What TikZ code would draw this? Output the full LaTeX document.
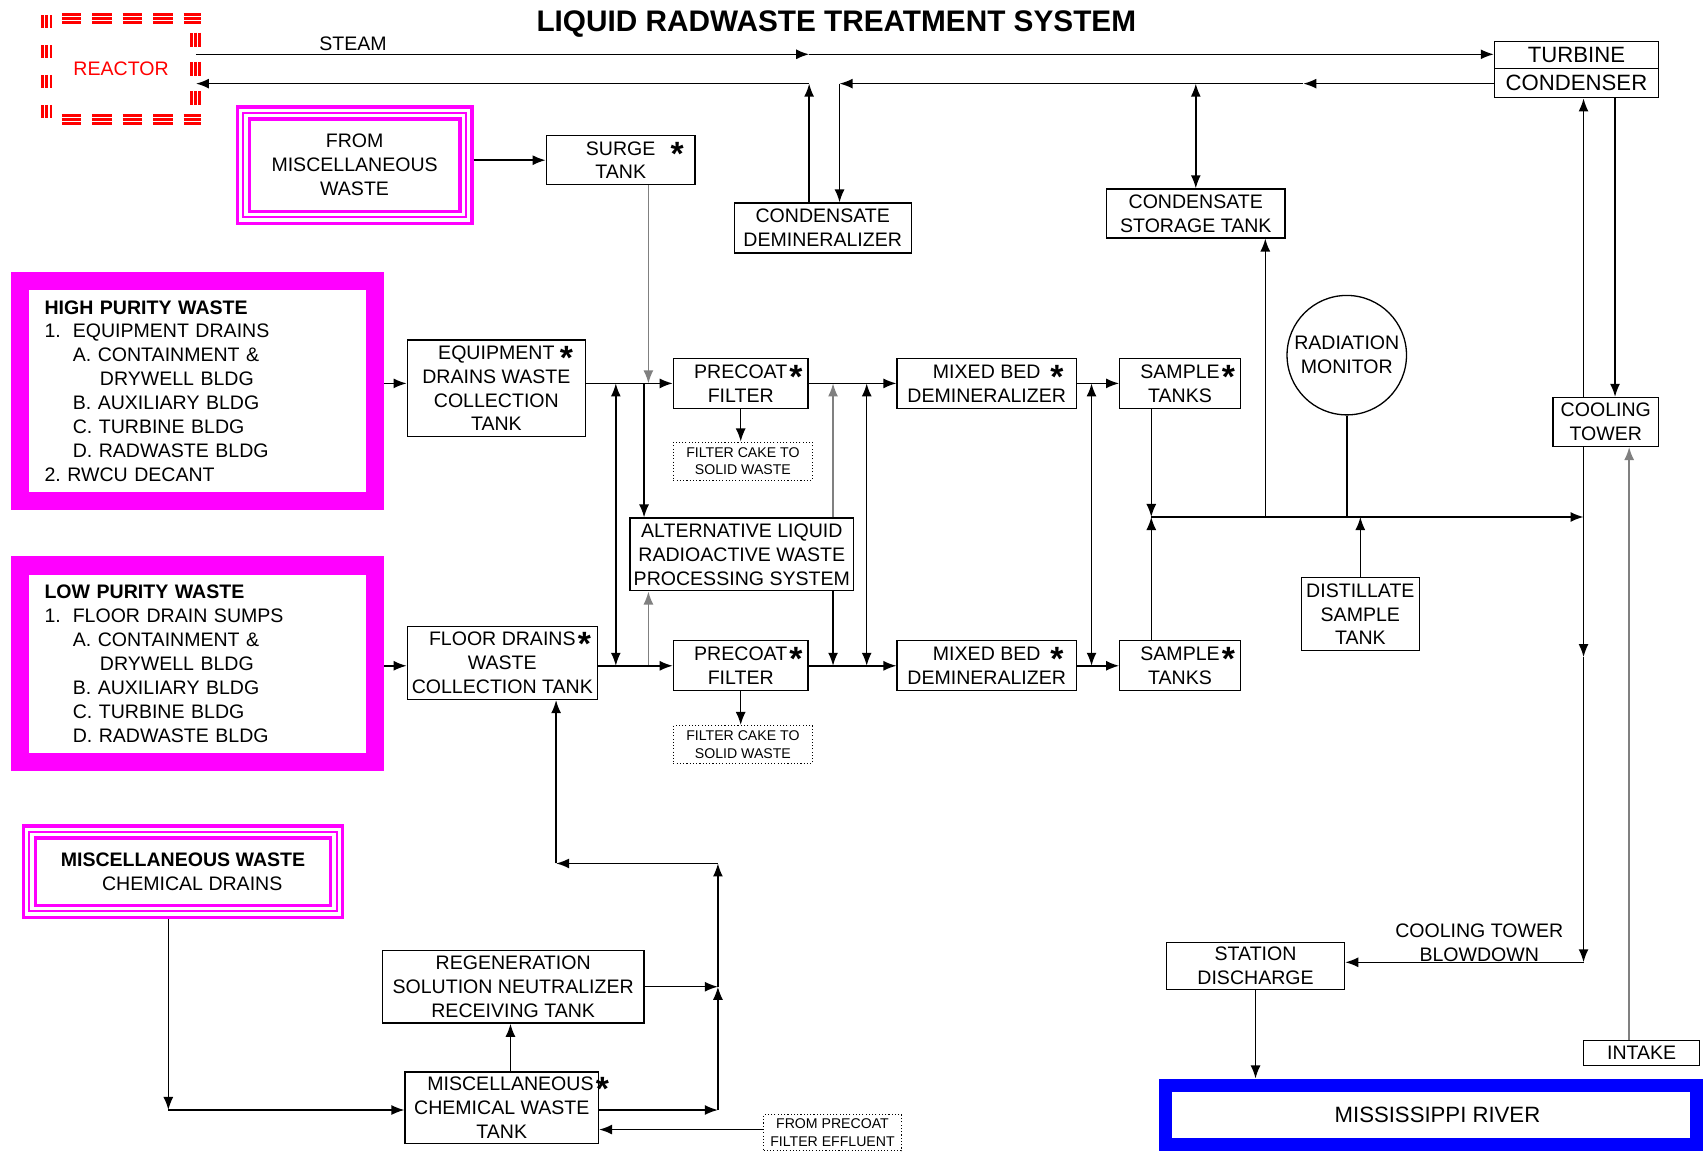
\documentclass[tikz,border=0pt]{standalone}
\usepackage{fontspec}
\setmainfont{Liberation Sans}
\usetikzlibrary{arrows.meta}
\frenchspacing

\definecolor{wastepink}{RGB}{255,0,255}
\definecolor{riverblue}{RGB}{0,0,255}
\newcommand{\boxfont}{\fontsize{9}{11}\selectfont}
\newcommand{\bigboxfont}{\fontsize{10.2}{12}\selectfont}
\newcommand{\notefont}{\fontsize{6.5}{8.2}\selectfont}
\newcommand{\tankstar}[1][1pt]{\rlap{\hspace{#1}\smash{\raisebox{-4.6pt}{\fontsize{15.5}{15.5}\selectfont\bfseries *}}}}

\tikzset{
  wh/.style 2 args={minimum width=#1*0.5pt, minimum height=#2*0.5pt},
  tank/.style={draw, line width=0.6pt, align=center, inner sep=0pt, font=\boxfont},
  note/.style={draw, densely dotted, line width=0.5pt, align=center, inner sep=0pt, font=\notefont},
  source/.style={draw=wastepink, line width=8.5pt, inner sep=0pt, font=\boxfont, align=left, text width=141pt},
  tripleframe/.style={draw=wastepink, line width=1.5pt, double=white, double distance=4pt, outer sep=3.5pt, inner sep=0pt, font=\boxfont},
  reactorrim/.style={red, line width=1.2pt, double=white, double distance=2.6pt},
  reactorcore/.style={red, line width=1.6pt},
  flow/.style={line width=0.7pt},
  pale/.style={line width=0.7pt, draw=black!50},
}

\begin{document}
\begin{tikzpicture}[x=0.5pt, y=-0.5pt, >={Latex[length=6pt,width=4.6pt]}]
  \useasboundingbox (0,0) rectangle (1568,1060);

  \node[font=\bfseries\fontsize{13.7}{16}\selectfont] (title) at (770,22) {LIQUID RADWASTE TREATMENT SYSTEM};

  %% reactor
  \node[wh={137}{93}, text=red, font=\boxfont] (reactor) at (111.5,63.5) {REACTOR};
  \draw[reactorrim, dash pattern=on 9pt off 5pt] (57,17) -- (185,17);
  \draw[reactorcore, dash pattern=on 9pt off 5pt] (57,17) -- (185,17);
  \draw[reactorrim, dash pattern=on 9pt off 5pt] (57,110) -- (185,110);
  \draw[reactorcore, dash pattern=on 9pt off 5pt] (57,110) -- (185,110);
  \draw[reactorrim, dash pattern=on 6pt off 7.75pt] (43,14) -- (43,112);
  \draw[reactorcore, dash pattern=on 6pt off 7.75pt] (43,14) -- (43,112);
  \draw[reactorrim, dash pattern=on 6.5pt off 7pt] (180,30) -- (180,100);
  \draw[reactorcore, dash pattern=on 6.5pt off 7pt] (180,30) -- (180,100);

  %% turbine side
  \node[tank, wh={151}{25}, font=\bigboxfont] (turbine) at (1451.5,50.5) {TURBINE};
  \node[tank, wh={151}{27}, font=\bigboxfont] (condenser) at (1451.5,76.5) {CONDENSER};
  \node[tank, wh={163}{46}] (condemin) at (757.5,210) {CONDENSATE\\DEMINERALIZER};
  \node[tank, wh={164}{45}] (condstor) at (1101,196.5) {CONDENSATE\\STORAGE TANK};
  \node[tank, wh={97}{45}] (cooling) at (1478.5,388.5) {COOLING\\TOWER};
  \node[draw, circle, line width=0.6pt, minimum size=110*0.5pt, inner sep=0pt, align=center, font=\boxfont] (radmon) at (1240,327) {RADIATION\\MONITOR};
  \node[tank, wh={109}{67}] (distill) at (1252.5,565.5) {DISTILLATE\\SAMPLE\\TANK};
  \node[tank, wh={164}{43}] (station) at (1156,889.5) {STATION\\DISCHARGE};
  \node[tank, wh={107}{23}] (intake) at (1511.5,969.5) {INTAKE};
  \node[draw=riverblue, line width=6pt, inner sep=0pt, wh={489}{55}, font=\bigboxfont] (river) at (1317.5,1026.5) {\hspace*{6pt}MISSISSIPPI RIVER};

  %% sources
  \node[tripleframe, wh={205}{96}, align=center] (frommisc) at (326.5,152) {FROM\\MISCELLANEOUS\\WASTE};
  \draw[wastepink, line width=0.8pt] ([shift={(3.5pt,-3.5pt)}]frommisc.north west) rectangle ([shift={(-3.5pt,3.5pt)}]frommisc.south east);
  \node[source, wh={327}{203}] (highpur) at (182,360) {\textbf{HIGH PURITY WASTE}\\
    \makebox[13pt][l]{1.}EQUIPMENT DRAINS\\
    \hspace*{13pt}A. CONTAINMENT \&\\
    \hspace*{25.5pt}DRYWELL BLDG\\
    \hspace*{13pt}B. AUXILIARY BLDG\\
    \hspace*{13pt}C. TURBINE BLDG\\
    \hspace*{13pt}D. RADWASTE BLDG\\
    2. RWCU DECANT};
  \node[source, wh={327}{181}] (lowpur) at (182,611) {\textbf{LOW PURITY WASTE}\\
    \makebox[13pt][l]{1.}FLOOR DRAIN SUMPS\\
    \hspace*{13pt}A. CONTAINMENT \&\\
    \hspace*{25.5pt}DRYWELL BLDG\\
    \hspace*{13pt}B. AUXILIARY BLDG\\
    \hspace*{13pt}C. TURBINE BLDG\\
    \hspace*{13pt}D. RADWASTE BLDG};
  \node[tripleframe, wh={283}{73}, align=left] (miscdrain) at (168.5,802.5) {\textbf{MISCELLANEOUS WASTE}\\ \hspace*{19pt}CHEMICAL DRAINS};
  \draw[wastepink, line width=0.8pt] ([shift={(3.5pt,-3.5pt)}]miscdrain.north west) rectangle ([shift={(-3.5pt,3.5pt)}]miscdrain.south east);

  %% processing trains
  \node[tank, wh={137}{45}] (surge) at (571.5,147.5) {SURGE\tankstar[7pt]\\TANK};
  \node[tank, wh={164}{89}] (eqdrain) at (457,357.5) {EQUIPMENT\tankstar[2.5pt]\\DRAINS WASTE\\COLLECTION\\TANK};
  \node[tank, wh={175}{67}] (flrdrain) at (462.5,610.5) {FLOOR DRAINS\tankstar\\WASTE\\COLLECTION TANK};
  \node[tank, wh={124}{46}] (precoatA) at (682,353) {PRECOAT\tankstar\\FILTER};
  \node[tank, wh={124}{46}] (precoatB) at (682,613) {PRECOAT\tankstar\\FILTER};
  \node[note, wh={128}{35}] (cakeA) at (684,424.5) {FILTER CAKE TO\\SOLID WASTE};
  \node[note, wh={128}{35}] (cakeB) at (684,685.5) {FILTER CAKE TO\\SOLID WASTE};
  \node[tank, wh={206}{67}] (altsys) at (683,510.5) {ALTERNATIVE LIQUID\\RADIOACTIVE WASTE\\PROCESSING SYSTEM};
  \node[tank, wh={165}{46}] (mixedA) at (908.5,353) {MIXED BED\tankstar[4.5pt]\\DEMINERALIZER};
  \node[tank, wh={165}{46}] (mixedB) at (908.5,613) {MIXED BED\tankstar[4.5pt]\\DEMINERALIZER};
  \node[tank, wh={111}{46}] (sampleA) at (1086.5,353) {SAMPLE\tankstar\\TANKS};
  \node[tank, wh={111}{46}] (sampleB) at (1086.5,613) {SAMPLE\tankstar\\TANKS};

  %% chemical waste
  \node[tank, wh={241}{67}] (regen) at (472.5,908.5) {REGENERATION\\SOLUTION NEUTRALIZER\\RECEIVING TANK};
  \node[tank, wh={178}{66}] (misctank) at (462,1020) {\hspace*{8pt}MISCELLANEOUS\tankstar\\CHEMICAL WASTE\\TANK};
  \node[note, wh={127}{33}] (fromeff) at (766.5,1043) {FROM PRECOAT\\FILTER EFFLUENT};

  %% labels
  \node[font=\boxfont] (steamlbl) at (325,40) {STEAM};
  \node[font=\boxfont, align=center] (blowlbl) at (1362,868) {COOLING TOWER\\BLOWDOWN};

  %% steam and condensate
  \coordinate (steammid) at (745,50);
  \draw[flow,->] (reactor.east |- steammid) -- (steammid);
  \draw[flow,->] (steammid) -- (turbine.west |- steammid);
  \coordinate (retmid) at (1200,77);
  \coordinate (retcorner) at (773,77);
  \coordinate (upcorner) at (745,77);
  \coordinate (storjoin) at (1101,77);
  \draw[flow,->] (condenser.west |- retmid) -- (retmid);
  \draw[flow,->] (retmid) -- (retcorner);
  \draw[flow,->] (retcorner) -- (retcorner |- condemin.north);
  \draw[flow,->] (upcorner |- condemin.north) -- (upcorner);
  \draw[flow,->] (upcorner) -- (reactor.east |- upcorner);
  \draw[flow,<->] (storjoin) -- (condstor.north);

  %% cooling tower
  \draw[flow,->] (1487,0 |- condenser.south) -- (1487,0 |- cooling.north);
  \draw[flow,->] (1458,0 |- cooling.north) -- (1458,0 |- condenser.south);
  \coordinate (bdmid) at (1458,605);
  \coordinate (bdcorner) at (1458,886);
  \draw[flow,->] (1458,0 |- cooling.south) -- (bdmid);
  \draw[flow,->] (bdmid) -- (bdcorner);
  \draw[flow,->] (bdcorner) -- (station.east |- bdcorner);
  \draw[pale,->] (1500,0 |- intake.north) -- (1500,0 |- cooling.south);
  \draw[flow,->] (station.south) -- (station.south |- river.north);

  %% discharge header
  \coordinate (jn) at (1060,476);
  \draw[flow,->] (sampleA.south -| jn) -- (jn);
  \draw[flow,->] (sampleB.north -| jn) -- (jn);
  \draw[flow,->] (jn) -- (bdmid |- jn);
  \draw[flow,->] (1165,0 |- jn) -- (1165,0 |- condstor.south);
  \draw[flow] (radmon.south) -- (radmon.south |- jn);
  \draw[flow,->] (distill.north) -- (distill.north |- jn);

  %% upper train
  \draw[flow,->] (highpur.east |- precoatA) -- (eqdrain.west |- precoatA);
  \draw[flow,->] (frommisc.east |- surge) -- (surge.west);
  \draw[flow,->] (eqdrain.east |- precoatA) -- (precoatA.west);
  \draw[pale,->] (597,0 |- surge.south) -- (597,0 |- precoatA);
  \draw[flow,->] (593,0 |- precoatA) -- (593,0 |- altsys.north);
  \draw[flow,<->] (567,0 |- precoatA) -- (567,0 |- precoatB);
  \draw[pale,->] (597,0 |- precoatB) -- (597,0 |- altsys.south);
  \draw[pale,->] (767,0 |- altsys.north) -- (767,0 |- precoatA);
  \draw[flow,->] (767,0 |- altsys.south) -- (767,0 |- precoatB);
  \draw[flow,<->] (798,0 |- precoatA) -- (798,0 |- precoatB);
  \draw[flow,->] (precoatA.east) -- (mixedA.west);
  \draw[flow,->] (mixedA.east) -- (sampleA.west);
  \draw[flow,<->] (1005,0 |- precoatA) -- (1005,0 |- precoatB);
  \draw[flow,->] (precoatA.south) -- (precoatA.south |- cakeA.north);

  %% lower train
  \draw[flow,->] (lowpur.east |- precoatB) -- (flrdrain.west |- precoatB);
  \draw[flow,->] (flrdrain.east |- precoatB) -- (precoatB.west);
  \draw[flow,->] (precoatB.east) -- (mixedB.west);
  \draw[flow,->] (mixedB.east) -- (sampleB.west);
  \draw[flow,->] (precoatB.south) -- (precoatB.south |- cakeB.north);

  %% chemical drains
  \coordinate (chemcorner) at (155,1022);
  \coordinate (rjoin) at (661,1022);
  \coordinate (rtop) at (661,795);
  \coordinate (fdcorner) at (512,795);
  \draw[flow,->] (miscdrain.south -| chemcorner) -- (chemcorner);
  \draw[flow,->] (chemcorner) -- (misctank.west |- chemcorner);
  \draw[flow,->] (470,0 |- misctank.north) -- (470,0 |- regen.south);
  \draw[flow,->] (misctank.east |- rjoin) -- (rjoin);
  \draw[flow,->] (regen.east) -- (rjoin |- regen);
  \draw[flow,->] (rjoin) -- (rjoin |- regen);
  \draw[flow,->] (rjoin |- regen) -- (rtop);
  \draw[flow,->] (rtop) -- (fdcorner);
  \draw[flow,->] (fdcorner) -- (fdcorner |- flrdrain.south);
  \draw[flow,->] (fromeff.west |- 0,1040) -- (misctank.east |- 0,1040);

\end{tikzpicture}
\end{document}
